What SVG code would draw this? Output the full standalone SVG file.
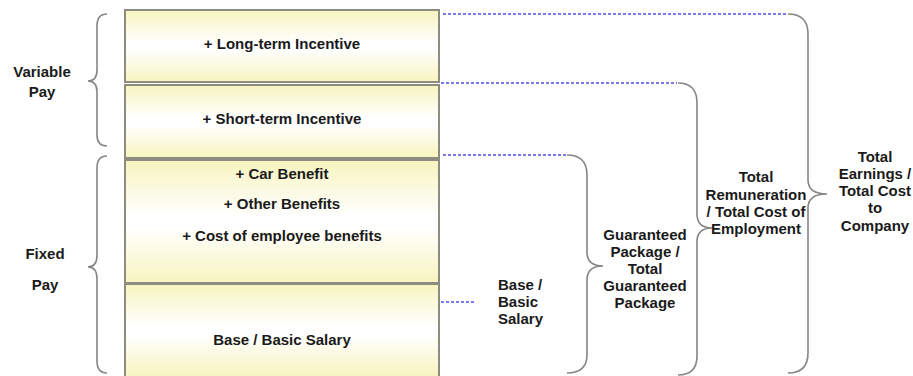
<svg xmlns="http://www.w3.org/2000/svg" width="913" height="376" viewBox="0 0 913 376">
<defs>
<linearGradient id="g" x1="0" y1="0" x2="0" y2="1">
<stop offset="0" stop-color="#f7f4be"/>
<stop offset="0.45" stop-color="#ffffff"/>
<stop offset="0.55" stop-color="#ffffff"/>
<stop offset="1" stop-color="#f7f4be"/>
</linearGradient>
<style>
.box{fill:url(#g);stroke:#8c8c80;stroke-width:2}
.t{font-family:"Liberation Sans",Arial,sans-serif;font-weight:bold;font-size:15px;fill:#1a1a1a;text-anchor:middle}
.tl{font-family:"Liberation Sans",Arial,sans-serif;font-weight:bold;font-size:15px;fill:#1a1a1a;text-anchor:start}
.br{fill:none;stroke:#858585;stroke-width:1.6}
.dot{fill:none;stroke:#7a7aee;stroke-width:2;stroke-dasharray:3 2}
</style>
</defs>
<rect width="913" height="376" fill="#ffffff"/>

<g id="box-long-term">
<rect class="box" x="125" y="10" width="314" height="72"/>
<text class="t" x="282" y="49">+ Long-term Incentive</text>
</g>
<g id="box-short-term">
<rect class="box" x="125" y="85" width="314" height="73"/>
<text class="t" x="282" y="124">+ Short-term Incentive</text>
</g>
<g id="box-benefits">
<rect class="box" x="125" y="160" width="314" height="123"/>
<text class="t" x="282" y="179">+ Car Benefit</text>
<text class="t" x="282" y="209">+ Other Benefits</text>
<text class="t" x="282" y="241">+ Cost of employee benefits</text>
</g>
<g id="box-base">
<rect class="box" x="125" y="284" width="314" height="93"/>
<text class="t" x="282" y="345">Base / Basic  Salary</text>
</g>

<g id="label-variable">
<path class="br" d="M107,14 Q97,14 97,26 L97,70 Q97,81 88,81 Q97,81 97,92 L97,135 Q97,146 107,146"/>
<text class="t" x="42" y="77">Variable</text>
<text class="t" x="42" y="97">Pay</text>
</g>
<g id="label-fixed">
<path class="br" d="M107,156 Q97,156 97,168 L97,255 Q97,267 88,267 Q97,267 97,279 L97,361 Q97,373 107,373"/>
<text class="t" x="45" y="259">Fixed</text>
<text class="t" x="45" y="290">Pay</text>
</g>

<g id="connectors">
<path class="dot" d="M443,14 H788"/>
<path class="dot" d="M441,83 H677"/>
<path class="dot" d="M443,155 H567"/>
<path class="dot" d="M441,302 H475"/>
</g>

<g id="label-base-salary">
<text class="tl" x="498" y="290">Base /</text>
<text class="tl" x="498" y="307">Basic</text>
<text class="tl" x="498" y="324">Salary</text>
</g>

<g id="label-guaranteed">
<path class="br" d="M567,155 Q587,155 587,175 L587,252 Q587,266 603,266 Q587,266 587,280 L587,355 Q587,373 567,373"/>
<text class="t" x="645" y="240">Guaranteed</text>
<text class="t" x="645" y="257">Package /</text>
<text class="t" x="645" y="274">Total</text>
<text class="t" x="645" y="291">Guaranteed</text>
<text class="t" x="645" y="308">Package</text>
</g>

<g id="label-total-remuneration">
<path class="br" d="M678,83 Q697,83 697,103 L697,214 Q697,228 712,228 Q697,228 697,242 L697,356 Q697,375 678,375"/>
<text class="t" x="756" y="182">Total</text>
<text class="t" x="756" y="200">Remuneration</text>
<text class="t" x="756" y="217">/ Total Cost of</text>
<text class="t" x="756" y="234">Employment</text>
</g>

<g id="label-total-earnings">
<path class="br" d="M788,14 Q808,14 808,34 L808,180 Q808,194 827,194 Q808,194 808,208 L808,353 Q808,373 788,373"/>
<text class="t" x="875" y="162">Total</text>
<text class="t" x="875" y="179">Earnings /</text>
<text class="t" x="875" y="196">Total Cost</text>
<text class="t" x="875" y="213">to</text>
<text class="t" x="875" y="231">Company</text>
</g>
</svg>
